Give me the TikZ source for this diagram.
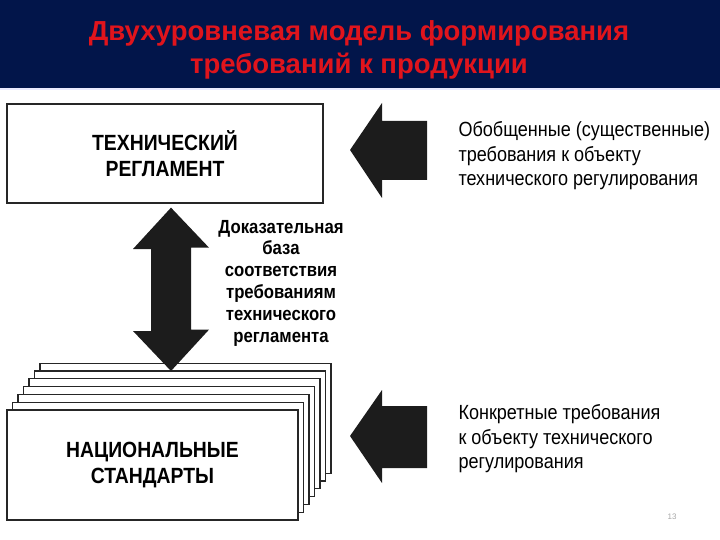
\documentclass[tikz,border=0pt]{standalone}
\usepackage{fontspec}
\setmainfont{Liberation Sans}
\newfontfamily\narrowfont[FakeStretch=0.88]{Liberation Sans}
\usepackage{tikz}
\usetikzlibrary{positioning}
\usetikzlibrary{calc}
\definecolor{titlebg}{HTML}{02154A}
\definecolor{titlered}{HTML}{E0141C}
\definecolor{arrowgray}{HTML}{1C1C1C}
\tikzstyle{sheet}=[draw=black!85,fill=white,line width=1.3pt]
\tikzstyle{bigarrow}=[fill=arrowgray]

\begin{document}
\begin{tikzpicture}[x=1pt,y=-1pt]
\tikzstyle{boxtext}=[font=\narrowfont\bfseries\fontsize{22}{26}\selectfont,align=center]
\tikzstyle{note}=[font=\narrowfont\fontsize{20.5}{24.5}\selectfont,align=left,anchor=west]
\useasboundingbox (0,0) rectangle (720,540);
\fill[titlebg] (0,0) rectangle (720,88);
\draw[blue!8,line width=2pt] (0,89.5) -- (720,89.5);
\node [titlered,font=\bfseries\fontsize{27.5}{33}\selectfont,align=center] (title) at (359,49.5)
  {Двухуровневая модель формирования\\требований к продукции};

% upper level
\node [sheet,boxtext,minimum width=316pt,minimum height=99pt] (reg) at (165,153.5)
  {ТЕХНИЧЕСКИЙ\\РЕГЛАМЕНТ};

% lower level: stack of standards
\foreach \i in {6,...,1}
  \draw [sheet] ({7+5.5*\i},{410-7.8*\i}) rectangle ++(291,110);
\node [sheet,boxtext,minimum width=291pt,minimum height=110pt] (std) at (152.5,465)
  {НАЦИОНАЛЬНЫЕ\\СТАНДАРТЫ};

\coordinate (up) at ([xshift=6pt,yshift=-4pt]reg.south);
\coordinate (dn) at (171,371);
\fill [bigarrow] (up) -- ++(38,40) -- ++(-18,0) -- ++(0,82) -- ++(18,0) -- (dn)
  -- ++(-38,-40) -- ++(18,0) -- ++(0,-82) -- ++(-18,0) -- cycle;
\node [font=\narrowfont\bfseries\fontsize{19}{21.8}\selectfont,align=center] (base) at (281,283)
  {Доказательная\\база\\соответствия\\требованиям\\технического\\регламента};

% requirements
\coordinate (t1) at (350,150);
\coordinate (t2) at (350,436);
\fill [bigarrow] (t1) -- ++(32,-47) -- ++(0,18) -- ++(45,0) -- ++(0,59) -- ++(-45,0)
  -- ++(0,18) -- cycle;
\fill [bigarrow] (t2) -- ++(32,-46) -- ++(0,16) -- ++(45,0) -- ++(0,62) -- ++(-45,0)
  -- ++(0,15) -- cycle;
\node [note] (gen) at (455,156)
  {Обобщенные (существенные)\\требования к объекту\\технического регулирования};
\node [note] (conc) at (455,439)
  {Конкретные требования\\к объекту технического\\регулирования};

\node [black!35,font=\fontsize{8}{8}\selectfont] (page) at (672,517) {13};
\end{tikzpicture}
\end{document}
